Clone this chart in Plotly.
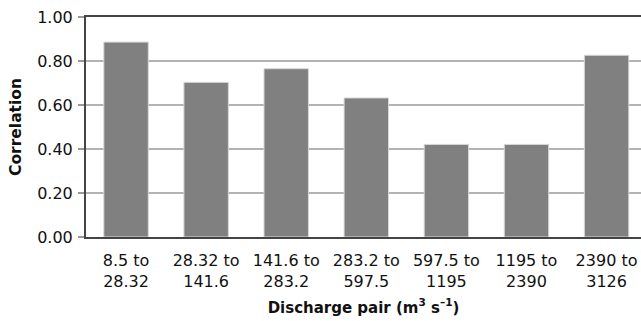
import plotly.graph_objects as go

categories = ["8.5 to<br>28.32", "28.32 to<br>141.6", "141.6 to<br>283.2", "283.2 to<br>597.5",
              "597.5 to<br>1195", "1195 to<br>2390", "2390 to<br>3126"]
correlation = [0.886, 0.703, 0.765, 0.632, 0.421, 0.421, 0.826]
y_ticks = [0.0, 0.2, 0.4, 0.6, 0.8, 1.0]
y_tick_labels = ["0.00", "0.20", "0.40", "0.60", "0.80", "1.00"]

font = "DejaVu Sans, sans-serif"

fig = go.Figure(go.Bar(
    x=list(range(len(categories))), y=correlation,
    marker=dict(color="#808080", line=dict(color="#d9d9d9", width=1)),
    width=0.555,
))

fig.update_layout(
    width=641, height=321,
    margin=dict(l=86, r=0, t=17, b=84),
    plot_bgcolor="white", paper_bgcolor="white",
    font=dict(family=font, size=16, color="#111"),
    showlegend=False,
    xaxis=dict(
        tickmode="array", tickvals=list(range(len(categories))), ticktext=categories,
        range=[-0.5, 6.43], showline=True, linecolor="#444", linewidth=2, mirror=True,
        ticks="", showgrid=False, zeroline=False, automargin=False,
        ticklabelstandoff=8, ticklabeloverflow="allow",
        title=dict(text="<b>Discharge pair (m<sup>3</sup> s<sup>–1</sup>)</b>", font=dict(size=15), standoff=12),
        tickfont=dict(size=16),
    ),
    yaxis=dict(
        range=[0, 1.0], tickmode="array", tickvals=y_ticks, ticktext=y_tick_labels,
        showline=True, linecolor="#444", linewidth=2, automargin=False,
        ticks="outside", ticklen=6, tickcolor="#999", tickwidth=1.5,
        ticklabelstandoff=2, ticklabeloverflow="allow",
        showgrid=True, gridcolor="#b3b3b3", gridwidth=1.5, zeroline=False,
        title=dict(text="<b>Correlation</b>", font=dict(size=15.5), standoff=12),
        tickfont=dict(size=16),
    ),
)

fig.write_html(
    "out.html",
    config={"displayModeBar": False},
    post_script="document.body.style.margin='0';document.body.style.overflow='hidden';",
)
